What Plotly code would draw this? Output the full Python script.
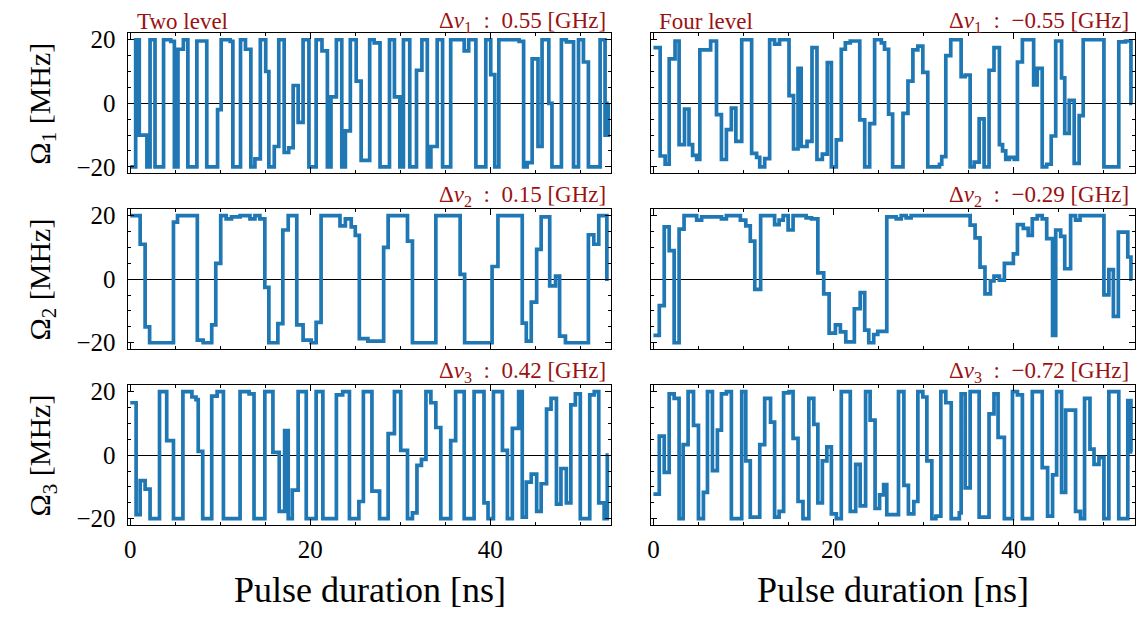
import plotly.graph_objects as go

# ---------------- data (segment start times in ns, amplitudes in MHz) ----------------
T_END = 53.15

tA = [0, 0.6, 1.0, 1.85, 2.2, 2.75, 3.7, 4.5, 4.9, 5.3, 5.9, 6.4, 7.4, 8.5, 9.7, 10.1, 11.1, 11.4, 12.25, 12.8,
      13.4, 13.85, 14.45, 15.05, 15.4, 16.0, 16.5, 17.1, 17.6, 18.1, 18.65, 19.2, 19.85, 20.65, 21.3, 21.9, 22.3,
      22.9, 23.5, 23.9, 24.45, 25.1, 25.65, 26.6, 27.1, 27.75, 28.8, 29.35, 29.95, 30.35, 31.05, 31.8, 32.4, 33.0,
      33.4, 34.1, 34.7, 35.6, 37.1, 37.6, 38.4, 39.5, 40.05, 40.5, 40.95, 43.2, 43.7, 44.1, 44.65, 45.3, 45.75,
      46.5, 46.85, 47.9, 48.45, 49.25, 49.8, 50.35, 50.9, 52.2, 52.75, 53.1]
vA = [-20, 20, -10, -20, 20, -20, 20, 19.5, -20, 17, 20, -20, 19.6, -20, -2, 20, 19.5, -20, 20, 17,
      -20, -17.5, 20, 10, -20, -13.6, 20, -15.5, -14, 5.6, -6, 20, -20, 20, 16.5, -20, 2, 20, -20, -8.7,
      20, 7, -18, 20, 19, -20, 20, 2, -20, 20, -20, 10.4, 20, -20, -13.6, 20, -20, 20, 16.5, 20,
      -20, 20, 9, -20, 20, 19.5, -20, -18.7, 14, -13.6, 20, 0, -20, 20, 19.3, -20, 20, 13, -20, 20, -10, 0]

tB = [0, 0.75, 1.3, 1.75, 2.4, 2.85, 3.45, 3.95, 4.35, 4.8, 5.15, 6.35, 7.0, 7.55, 8.1, 8.65, 9.15, 9.8, 10.9,
      11.45, 11.8, 12.35, 12.9, 13.45, 14.0, 15.05, 15.55, 16.05, 16.4, 17.05, 17.6, 18.15, 18.75, 19.3, 19.75,
      20.3, 20.85, 21.3, 21.85, 22.9, 23.45, 24.0, 24.55, 25.3, 25.65, 26.1, 26.55, 27.7, 28.25, 28.8, 29.35,
      29.9, 30.45, 31.75, 32.0, 32.45, 33.0, 34.15, 34.6, 35.15, 35.6, 36.15, 36.7, 37.25, 37.8, 38.4, 38.75,
      39.1, 39.5, 40.05, 40.4, 40.95, 42.2, 42.6, 43.15, 43.65, 44.15, 44.65, 45.3, 45.65, 46.15, 46.7, 47.25,
      47.7, 50.0, 51.65, 52.4, 53.0]
vB = [17.5, -16.6, -19.2, 14, 19.6, -13, -1.8, -13, -16.4, -17.7, 16.8, 19.6, -3.6, -17.7, -8.3, -1.5, -12, 20,
      -15.8, -17, -20, -17.4, 20, 18.6, 20, 2.4, -14.4, 11, -13.6, -12, 17.5, -17.7, -16, 12.8, -20, -11.5, 17,
      19, 19.6, -5.2, -20, -6.4, 20, 19, 17, -3.4, -20, -3.2, 7, 16.8, 18, 9.7, -20, -19.2, -16.8, 15, 20, 8.4,
      8.9, -20, -18.5, -4.9, -20, 10.4, 17.5, -13, -15, -17.7, -17, -17.7, 13, 20, 5.8, 11, -20, -19.2, -10.3,
      19.6, 8, -9.5, 0.9, -18.9, -3.9, 20, -20, 19.3, 19.6, 0]

tC = [0, 1.1, 1.65, 2.15, 4.8, 5.25, 7.45, 8.1, 9.05, 9.5, 10.05, 10.65, 11.25, 12.2, 13.3, 13.85, 14.4, 14.95,
      15.4, 16.4, 16.95, 17.55, 18.5, 19.2, 20.1, 20.65, 21.2, 23.3, 23.9, 24.55, 25.0, 25.45, 26.4, 28.15, 28.65,
      30.8, 31.35, 33.95, 36.65, 37.15, 40.2, 40.85, 43.55, 44.0, 44.55, 45.15, 45.65, 46.6, 47.25, 47.7, 48.35,
      50.9, 51.5, 52.05, 52.95]
vC = [20, 11, -15, -20, 18, 20, -19.2, -20, -14.4, 5, 20, 19, 19.6, 20, 19, 20, 19, -2.6, -20, -14, 15.5, 20,
      -14.4, -19.2, -20, -13.6, 20, 16.8, 19, 16.5, 13.8, -18.7, -19.5, 10, 20, 12, -20, 20, 1.5, -20, 4, 20,
      -13.8, -19.5, -7.2, 9.4, 19.6, -2.1, 1, -17.9, -20, 14, 11, 20, 0]

tD = [0, 0.65, 1.2, 1.75, 2.3, 2.85, 3.4, 4.8, 5.35, 7.55, 8.1, 9.65, 10.25, 10.75, 11.25, 11.9, 13.45, 13.95,
      14.4, 14.95, 15.5, 16.95, 17.55, 18.25, 18.9, 19.5, 20.2, 20.75, 21.35, 22.3, 22.95, 23.45, 23.9, 24.45,
      24.9, 25.9, 26.95, 27.5, 28.05, 28.6, 35.15, 35.7, 36.25, 36.8, 37.4, 37.8, 38.4, 38.95, 39.95, 40.4, 41.05,
      41.6, 42.05, 42.6, 43.15, 43.65, 44.3, 44.65, 45.2, 45.65, 46.3, 46.85, 47.35, 50.0, 50.55, 51.05, 51.6,
      52.65, 53.0]
vD = [-17.7, -8.3, 16.5, 9, -20, 15.8, 20, 18.6, 19.6, 19, 20, 18.6, 16.8, 12, -3.2, 20, 17.2, 18.6, 20, 15.5,
      20, 19.3, 19, 2, -4.6, -17, -14.4, -16.6, -19.7, -9.3, -4.2, -16, -20, -17.4, -16.4, 19.6, 19, 20, 19.3,
      20, 17, 13, 3.8, -4.6, -0.5, 1, -0.3, 5, 8, 17.2, 16, 13.8, 19, 20, 19, 12.8, -17.7, 15.5, 13.5, 3.3, 20,
      18.6, 20, -4.9, 3, -11.7, 14.8, 7, 0]

tE = [0, 0.65, 1.1, 1.65, 2.2, 3.25, 4.05, 4.8, 5.85, 6.85, 7.3, 7.55, 8.05, 9.05, 9.65, 10.35, 12.2, 13.2, 13.75,
      14.95, 15.85, 16.55, 17.15, 17.55, 18.0, 18.65, 19.55, 20.65, 21.4, 22.9, 23.6, 24.35, 25.4, 25.9, 26.85,
      27.7, 28.65, 29.35, 30.05, 30.8, 31.35, 31.85, 32.35, 32.85, 33.4, 33.95, 34.5, 35.6, 36.15, 37.1, 38.2,
      39.3, 39.75, 40.35, 41.35, 41.9, 42.45, 43.15, 43.55, 44.0, 44.55, 45.15, 45.65, 46.25, 46.75, 47.35,
      47.85, 48.45, 48.95, 49.45, 50.0, 51.05, 51.55, 52.05, 52.65, 53.0]
vE = [16.5, -18.7, -8, -10.7, -20, 20, 4.6, -20, 20, 18.3, 17.5, 1.2, -20, 18.6, 20, -20, 20, 19.3, -20, 20,
      0.9, -17.7, 7.7, -20, -11, 20, -20, 20, -20, 19, 20, -20, -14.6, 20, -11.3, -20, 6.8, 20, 1.5, -20, -18.2,
      -3.2, -1.3, 20, 16.5, 8.7, -20, 4.6, 20, -20, 20, -15, -20, 20, 1.5, -20, 8.4, 20, -19.5, -8.5, -6, -17.7,
      -9, 14.5, 17.9, -15.4, -4.2, -15, 15.8, 19.3, -20, 19, 20, -15, -20, 0]

tF = [0, 0.65, 1.2, 1.75, 2.3, 2.85, 3.3, 3.85, 4.45, 5.0, 5.55, 6.0, 6.55, 7.1, 7.55, 8.1, 8.65, 9.8, 10.25,
      10.75, 11.8, 12.35, 13.0, 13.45, 13.95, 14.45, 15.05, 15.5, 16.05, 16.6, 17.25, 17.8, 18.25, 18.75, 19.25,
      19.75, 20.3, 20.85, 21.85, 22.45, 22.95, 23.55, 24.05, 24.6, 25.1, 25.55, 25.9, 27.2, 27.8, 28.3, 28.9,
      29.35, 29.9, 30.35, 30.9, 31.35, 31.9, 32.45, 33.05, 33.95, 34.15, 34.6, 35.15, 36.15, 37.25, 37.8, 38.25,
      38.95, 39.85, 40.4, 40.95, 42.05, 43.15, 43.75, 44.3, 44.75, 45.3, 45.75, 46.85, 47.4, 47.85, 48.45, 48.9,
      49.45, 50.0, 50.55, 51.65, 52.65, 53.0]
vF = [-12.3, 6, -5.4, 19.3, 17.9, -20, 3.3, 20, 9.4, -20, -11.7, 20, -4.9, 7.9, 19.3, 20, -20, 20, -1.8, -19.5,
      3.3, 17.9, 10.4, -19.5, -17.7, 19.6, 20, 5.3, -14.6, -20, 17.9, 9.7, -15, -1.8, 2.6, -18.5, -20, 20, -17.7,
      -2.9, -16, 20, 11, -16.8, -12.5, -9.3, -18.7, 20, -9.5, -18.5, -14.6, 20, 18.3, -1.8, -20, -19.2, 20, 16.5,
      -20, -18.2, 19.3, -10.3, 20, -19.5, 13, 19.3, 5.6, -20, 20, 19, -20, 20, -3.9, -19.2, -6.2, 20, -11.7, 14.2,
      -17.7, -20, 17.9, 1.9, -2.9, -0.8, -20, 20, -20, 17.2, 1]

detunings_left = ["0.55", "0.15", "0.42"]
detunings_right = ["−0.55", "−0.29", "−0.72"]
panel_titles = ["Two level", "Four level"]
x_ticks = [0, 20, 40]
y_ticks = [-20, 0, 20]

# ---------------- layout geometry (page pixels) ----------------
W, H = 1138, 620


def fx(p):
    return p / W


def fy(p):
    return 1 - p / H


col_dom = [[fx(124), fx(609.5)], [fx(649), fx(1135)]]
row_dom = [[fy(170), fy(27)], [fy(350), fy(207)], [fy(530), fy(387)]]
SERIF = "Liberation Serif, DejaVu Serif, serif"
RED = "#9a1212"
BLUE = "#1f77b4"

series = [(tA, vA), (tB, vB), (tC, vC), (tD, vD), (tE, vE), (tF, vF)]

fig = go.Figure()
layout = dict(width=W, height=H, margin=dict(l=0, r=0, t=0, b=0),
              paper_bgcolor="white", plot_bgcolor="white", showlegend=False,
              hovermode=False)

for i, (tt, vv) in enumerate(series):
    n = min(len(tt), len(vv))
    xs = list(tt[:n]) + [T_END]
    ys = list(vv[:n]) + [vv[n - 1]]
    idx = i + 1
    row, col = i // 2, i % 2
    xa = "x" if idx == 1 else f"x{idx}"
    ya = "y" if idx == 1 else f"y{idx}"
    fig.add_trace(go.Scatter(x=xs, y=ys, mode="lines", xaxis=xa, yaxis=ya,
                             line=dict(color=BLUE, width=3.7, shape="hv"),
                             hoverinfo="skip"))
    common = dict(showline=True, linecolor="black", linewidth=1, mirror="ticks",
                  ticks="inside", ticklen=6, tickwidth=1, tickcolor="black",
                  showgrid=False,
                  tickfont=dict(family=SERIF, size=25, color="black"))
    layout["xaxis" if idx == 1 else f"xaxis{idx}"] = dict(
        common, domain=col_dom[col], anchor=ya, range=[-0.3, 53.45],
        tickmode="array", tickvals=x_ticks, zeroline=False,
        showticklabels=(row == 2), ticklabelstandoff=2,
        minor=dict(ticks="inside", ticklen=3, tickwidth=1, tickcolor="black",
                   tickmode="linear", tick0=0, dtick=5, showgrid=False))
    layout["yaxis" if idx == 1 else f"yaxis{idx}"] = dict(
        common, domain=row_dom[row], anchor=xa, range=[-22, 22],
        tickmode="array", tickvals=y_ticks, zeroline=True,
        zerolinecolor="black", zerolinewidth=1,
        showticklabels=(col == 0), ticklabelstandoff=6,
        minor=dict(ticks="inside", ticklen=3, tickwidth=1, tickcolor="black",
                   tickmode="linear", tick0=0, dtick=5, showgrid=False))

fig.update_layout(**layout)

ann = []
ann.append(dict(text=panel_titles[0], x=fx(131), y=fy(15), xanchor="left", yanchor="middle"))
ann.append(dict(text=panel_titles[1], x=fx(655), y=fy(15), xanchor="left", yanchor="middle"))
row_text_y = [15, 193, 373]
for r in range(3):
    ann.append(dict(text=f"Δ<i>ν</i><sub>{r + 1}</sub>&nbsp;&nbsp;:&nbsp;&nbsp;{detunings_left[r]} [GHz]",
                    x=fx(606), y=fy(row_text_y[r]), xanchor="right", yanchor="middle"))
    ann.append(dict(text=f"Δ<i>ν</i><sub>{r + 1}</sub>&nbsp;&nbsp;:&nbsp;&nbsp;{detunings_right[r]} [GHz]",
                    x=fx(1131), y=fy(row_text_y[r]), xanchor="right", yanchor="middle"))
for a in ann:
    a.update(xref="paper", yref="paper", showarrow=False,
             font=dict(family=SERIF, size=23, color=RED))

row_centers = [99, 279, 459]
for r in range(3):
    ann.append(dict(text=f"Ω<sub>{r + 1}</sub> [MHz]", x=fx(38), y=fy(row_centers[r]),
                    xref="paper", yref="paper", showarrow=False, textangle=-90,
                    xanchor="center", yanchor="middle",
                    font=dict(family=SERIF, size=30, color="black")))
for cx in [367, 892]:
    ann.append(dict(text="Pulse duration [ns]", x=fx(cx), y=fy(596),
                    xref="paper", yref="paper", showarrow=False,
                    xanchor="center", yanchor="middle",
                    font=dict(family=SERIF, size=36, color="black")))
fig.update_layout(annotations=ann)

# remove the default 8px page margin so the 1138x620 figure fills the window exactly
fig.write_html("out.html",
               config={"displayModeBar": False, "staticPlot": True},
               post_script="document.body.style.margin='0px';document.body.style.overflow='hidden';")
